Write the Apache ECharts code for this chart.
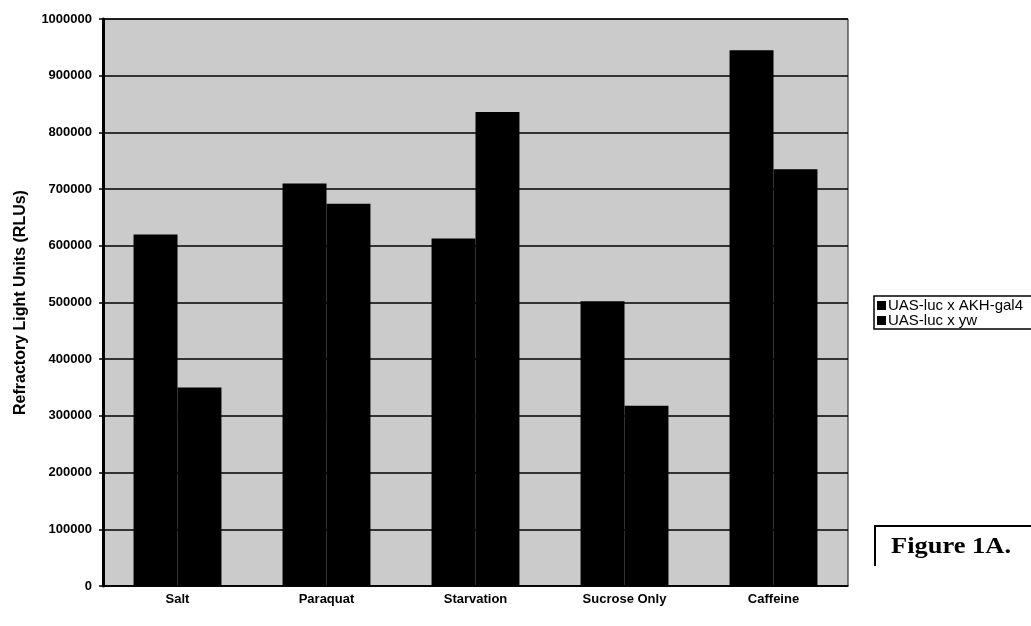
<!DOCTYPE html>
<html>
<head>
<meta charset="utf-8">
<script src="https://cdn.jsdelivr.net/npm/echarts@6/dist/echarts.min.js"></script>
<style>html,body{margin:0;padding:0;background:#fff}#c{width:1031px;height:626px}</style>
</head>
<body>
<div id="c"></div>
<script>
const categories = ['Salt', 'Paraquat', 'Starvation', 'Sucrose Only', 'Caffeine'];
const seriesNames = ['UAS-luc x AKH-gal4', 'UAS-luc x yw'];
const akhValues = [620000, 710000, 613000, 502000, 945000];
const ywValues = [350000, 674000, 836000, 318000, 735000];
const yTicks = [0, 100000, 200000, 300000, 400000, 500000, 600000, 700000, 800000, 900000, 1000000];

const chart = echarts.init(document.getElementById('c'), null, {renderer: 'canvas'});
const font = 'Arial, "Liberation Sans", sans-serif';
chart.setOption({
  animation: false,
  backgroundColor: '#fff',
  grid: {left: 103, right: 183, top: 19, bottom: 40, show: true, backgroundColor: '#cbcbcb', borderColor: '#111', borderWidth: 1},
  legend: {
    orient: 'vertical', left: 874, top: 296, itemWidth: 9, itemHeight: 9, itemGap: 0,
    padding: [2, 40, 1, 3], borderColor: '#000', borderWidth: 1.5, borderRadius: 0,
    icon: 'rect',
    textStyle: {fontFamily: font, fontSize: 15, color: '#000', padding: [0, 0, 0, -3], lineHeight: 14},
    data: seriesNames
  },
  xAxis: {
    type: 'category', data: categories,
    axisLine: {lineStyle: {color: '#000', width: 1.5}},
    axisTick: {show: false},
    axisLabel: {fontFamily: font, fontSize: 13, fontWeight: 'bold', color: '#000', margin: 7}
  },
  yAxis: {
    type: 'value', min: yTicks[0], max: yTicks[yTicks.length - 1], interval: 100000,
    name: 'Refractory Light Units (RLUs)', nameLocation: 'middle', nameGap: 74,
    nameTextStyle: {fontFamily: font, fontSize: 16, fontWeight: 'bold', color: '#000'},
    axisLine: {show: true, lineStyle: {color: '#000', width: 3}},
    axisTick: {show: true, length: 4, lineStyle: {color: '#000', width: 1.5}},
    axisLabel: {fontFamily: font, fontSize: 13, fontWeight: 'bold', color: '#000', margin: 11, formatter: v => String(v)},
    splitLine: {lineStyle: {color: '#000', width: 1.5}}
  },
  series: [
    {name: seriesNames[0], type: 'bar', data: akhValues, itemStyle: {color: '#000'}, barGap: '0%', barCategoryGap: '41%'},
    {name: seriesNames[1], type: 'bar', data: ywValues, itemStyle: {color: '#000'}, barGap: '0%', barCategoryGap: '41%'}
  ],
  graphic: [
    {type: 'polyline', shape: {points: [[875, 566], [875, 526], [1031, 526]]}, style: {stroke: '#000', lineWidth: 2, fill: null}},
    {type: 'text', x: 891, y: 536, scaleX: 1.15, style: {text: 'Figure 1A.', font: 'bold 23px "Liberation Serif", "Times New Roman", serif', fill: '#000'}}
  ]
});
</script>
</body>
</html>
